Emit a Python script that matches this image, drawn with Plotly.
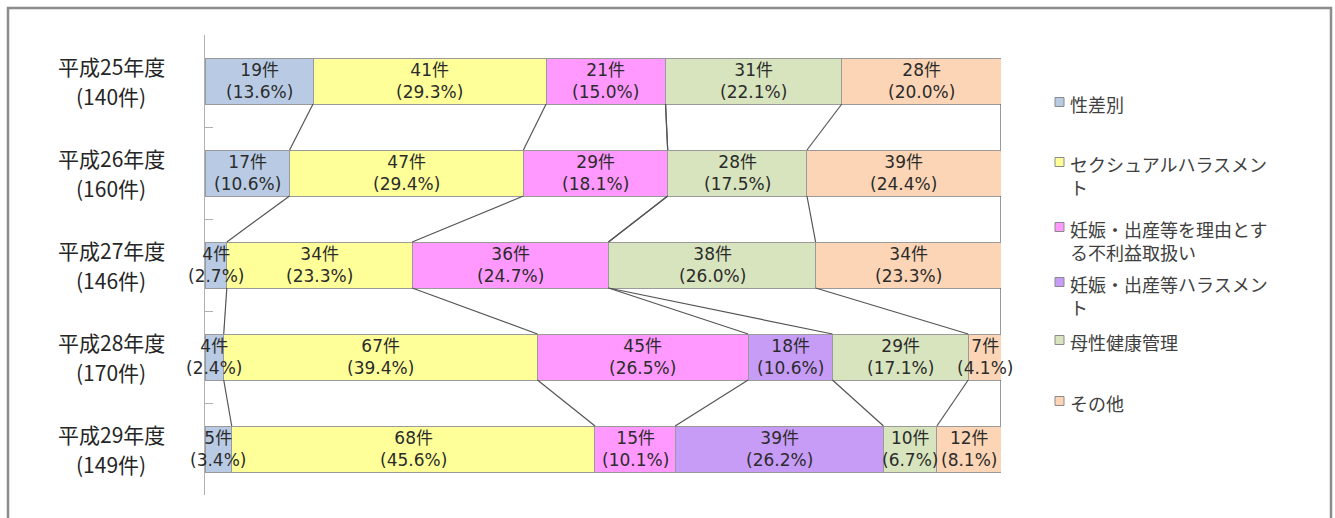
import plotly.graph_objects as go

years = ["平成25年度", "平成26年度", "平成27年度", "平成28年度", "平成29年度"]
series_names = [
    "性差別",
    "セクシュアルハラスメン<br>ト",
    "妊娠・出産等を理由とす<br>る不利益取扱い",
    "妊娠・出産等ハラスメン<br>ト",
    "母性健康管理",
    "その他",
]
sex_discrimination = [19, 17, 4, 4, 5]
sexual_harassment = [41, 47, 34, 67, 68]
pregnancy_disadvantage = [21, 29, 36, 45, 15]
pregnancy_harassment = [0, 0, 0, 18, 39]
maternal_health = [31, 28, 38, 29, 10]
others = [28, 39, 34, 7, 12]

colors = ["#B9CBE4", "#FFFF99", "#FF99FF", "#C79CF7", "#D7E4BD", "#FBD5B5"]

series_values = [sex_discrimination, sexual_harassment, pregnancy_disadvantage,
                 pregnancy_harassment, maternal_health, others]
totals = [sum(s[i] for s in series_values) for i in range(len(years))]

# pixel geometry helpers
W, H = 1335, 518
PL, PR, PT, PB = 205, 1001, 35, 495
ROW_PX = (PB - PT) / len(years)

def px_x(p):
    return (p - PL) / (PR - PL)

def px_y(p):
    return (PB - p) / (PB - PT)

FONT = "Noto Sans CJK JP"
LABEL_FONT = "DejaVu Sans, Noto Sans CJK JP"
fig = go.Figure()

idx = list(range(len(years)))
annotations = []
cum_prev = [0.0] * len(years)
for name, vals, col in zip(series_names, series_values, colors):
    pct = [v / t * 100 for v, t in zip(vals, totals)]
    fig.add_trace(go.Bar(
        y=idx, x=pct, orientation="h", name=name.replace("<br>", ""),
        marker=dict(color=col, line=dict(color="#9a9a9a", width=1)),
        width=0.5, showlegend=False, hoverinfo="skip",
    ))
    for i, (v, p) in enumerate(zip(vals, pct)):
        if v > 0:
            annotations.append(dict(
                x=cum_prev[i] + p / 2, xref="x", y=i, yref="y",
                text=f"{v}件<br>({p:.1f}%)", showarrow=False,
                xanchor="center", yanchor="middle", align="center",
                font=dict(family=LABEL_FONT, size=17, color="#2b2b2b"),
            ))
    cum_prev = [c + p for c, p in zip(cum_prev, pct)]

# series lines connecting cumulative ends between consecutive bars
cum = [0.0] * len(years)
for vals in series_values:
    cum = [c + v / t * 100 for c, v, t in zip(cum, vals, totals)]
    for i in range(len(years) - 1):
        fig.add_trace(go.Scatter(
            x=[cum[i], cum[i + 1]], y=[i + 0.25, i + 1 - 0.25],
            mode="lines", line=dict(color="#555555", width=1.2),
            showlegend=False, hoverinfo="skip", cliponaxis=False,
        ))

# category labels (two lines as separate texts)
for i, (y, t) in enumerate(zip(years, totals)):
    annotations.append(dict(
        x=px_x(111), xref="paper", y=i - 15.5 / ROW_PX, yref="y",
        text=y, showarrow=False, xanchor="center", yanchor="middle",
        font=dict(family=FONT, size=21, color="#262626"),
    ))
    annotations.append(dict(
        x=px_x(111), xref="paper", y=i + 14.5 / ROW_PX, yref="y",
        text=f"({t}件)", showarrow=False, xanchor="center", yanchor="middle",
        font=dict(family=FONT, size=21, color="#262626"),
    ))

# manual legend
legend_y = [102, 162, 227, 282, 340, 401]
shapes = []
for name, col, ly in zip(series_names, colors, legend_y):
    shapes.append(dict(
        type="rect", xref="paper", yref="paper",
        x0=px_x(1055), x1=px_x(1064), y0=px_y(ly + 4.5), y1=px_y(ly - 4.5),
        fillcolor=col, line=dict(color="#8a8a8a", width=1),
    ))
    annotations.append(dict(
        x=px_x(1068), xref="paper", y=px_y(ly - 13), yref="paper",
        text=name, showarrow=False, xanchor="left", yanchor="top", align="left",
        font=dict(family=FONT, size=18, color="#404040"),
    ))

# outer frame
shapes.append(dict(
    type="rect", xref="paper", yref="paper",
    x0=px_x(8), x1=px_x(1331), y0=px_y(560), y1=px_y(8),
    line=dict(color="#8c8c8c", width=2.5), fillcolor="rgba(0,0,0,0)", layer="above",
))

fig.update_layout(
    width=W, height=H,
    margin=dict(l=PL, r=W - PR, t=PT, b=H - PB),
    paper_bgcolor="white", plot_bgcolor="white",
    barmode="stack", showlegend=False,
    shapes=shapes, annotations=annotations,
    xaxis=dict(range=[0, 100], visible=False, fixedrange=True),
    yaxis=dict(
        range=[4.5, -0.5], tickvals=[-0.5, 0.5, 1.5, 2.5, 3.5, 4.5],
        showticklabels=False, ticks="inside", ticklen=8, tickcolor="#b0b0b0",
        showline=True, linecolor="#b0b0b0", linewidth=1,
        showgrid=False, zeroline=False, fixedrange=True,
    ),
)

fig.write_html("out.html")
